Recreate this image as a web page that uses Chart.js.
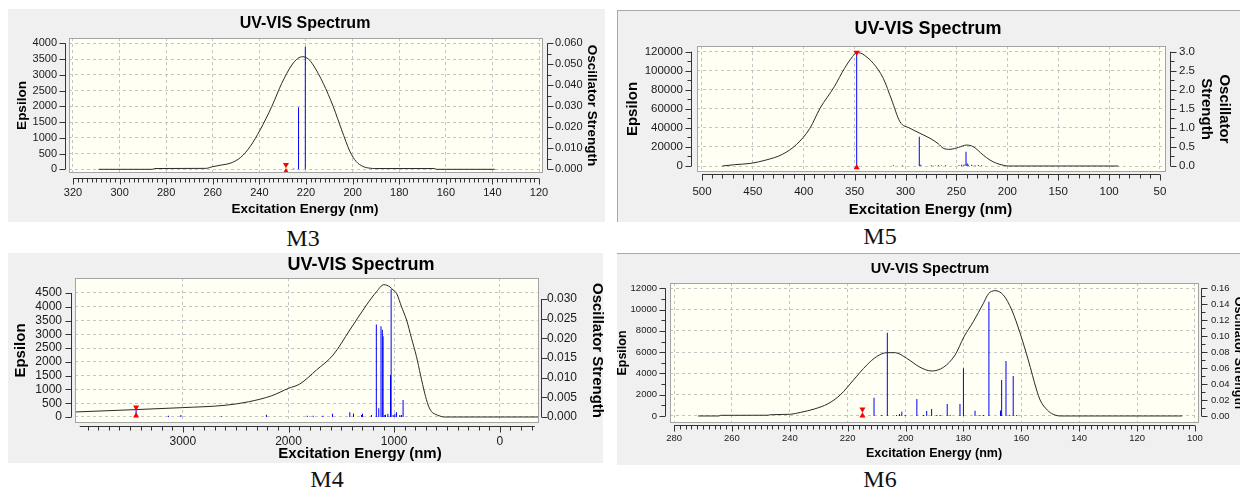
<!DOCTYPE html>
<html lang="en">
<head>
<meta charset="utf-8">
<title>UV-VIS Spectrum M3 M5 M4 M6</title>
<script src="https://cdn.jsdelivr.net/npm/chart.js@4.4.1/dist/chart.umd.min.js"></script>
<style>
  html, body { margin: 0; padding: 0; background: #fff; }
  body { position: relative; width: 1240px; height: 489px; overflow: hidden; }
  .bg { position: absolute; background: #f0f0f0; box-sizing: border-box; }
  canvas { position: absolute; }
  .cap { position: absolute; width: 80px; margin-left: -40px; text-align: center; font: 24px/24px "Liberation Serif", "Times New Roman", serif; color: #111; }
</style>
</head>
<body>
<div class="bg" style="left:8px;top:9px;width:597px;height:213px"></div>
<div class="bg" style="left:617px;top:10px;width:623px;height:212px;border-top:1px solid #a8a8a8;border-left:1px solid #a8a8a8"></div>
<div class="bg" style="left:8px;top:253px;width:595px;height:210px"></div>
<div class="bg" style="left:617px;top:253px;width:623px;height:212px;border-top:1px solid #a8a8a8"></div>

<canvas id="m3" width="597" height="213" style="left:8px;top:9px;width:597px;height:213px"></canvas>
<canvas id="m5" width="623" height="212" style="left:617px;top:10px;width:623px;height:212px"></canvas>
<canvas id="m4" width="602" height="210" style="left:8px;top:253px;width:602px;height:210px"></canvas>
<canvas id="m6" width="640" height="212" style="left:617px;top:253px;width:640px;height:212px"></canvas>

<div class="cap" style="left:303px;top:226px">M3</div>
<div class="cap" style="left:880px;top:224px">M5</div>
<div class="cap" style="left:327px;top:467px">M4</div>
<div class="cap" style="left:880px;top:467px">M6</div>

<script>
// ---- M3 ----
const m3Nm = [309, 286, 285, 263, 260, 256, 252.6, 248, 244, 239.7, 234.7, 230.4, 226.1, 223.5, 221.4, 219, 216.9, 212.6, 208.3, 204.7, 201.1, 198.5, 195.5, 192.5, 190.5, 165, 164, 139]
const m3Eps = [0, 0, 25, 30, 85, 140, 190, 380, 720, 1250, 1990, 2730, 3310, 3520, 3575, 3500, 3310, 2730, 1990, 1250, 560, 250, 90, 35, 25, 25, 0, 0]
const m3StickNm = [225.2, 223.2, 220.3]
const m3StickF = [0.0004, 0.0295, 0.0584]
const m3MarkNm = [228.6, 228.6]
const m3MarkF = [0.0022, -0.001]
const m3NmTicks = [320, 300, 280, 260, 240, 220, 200, 180, 160, 140, 120]
const m3EpsTicks = [0, 500, 1000, 1500, 2000, 2500, 3000, 3500, 4000]
const m3OscTicks = [0, 0.01, 0.02, 0.03, 0.04, 0.05, 0.06]

// ---- M5 ----
const m5Nm = [480, 468, 452, 437, 421, 407, 394, 384, 370, 360, 352, 348, 344, 340, 331.7, 321.9, 313.6, 305.5, 295.6, 285.8, 276, 268, 262.9, 256.3, 248, 240.1, 233.5, 223.7, 217, 210.5, 204, 199, 91]
const m5Eps = [0, 1400, 2800, 6300, 12250, 22740, 39540, 60600, 83280, 102500, 115000, 119000, 118500, 116000, 107800, 92100, 69300, 46500, 39600, 34300, 29100, 23500, 18600, 17500, 19500, 22000, 20300, 11500, 6200, 2800, 800, 0, 0]
const m5StickNm = [348, 312, 303, 286.5, 285, 274.3, 271, 267.7, 264.5, 260.6, 247.5, 244.9, 242.6, 240.6, 239.5, 238.5, 235, 231.8, 228.5, 225.2]
const m5StickF = [2.95, 0.02, 0.015, 0.77, 0.03, 0.02, 0.015, 0.02, 0.015, 0.02, 0.02, 0.03, 0.04, 0.375, 0.07, 0.04, 0.03, 0.02, 0.025, 0.02]
const m5MarkNm = [348, 348]
const m5MarkF = [2.98, -0.04]
const m5NmTicks = [500, 450, 400, 350, 300, 250, 200, 150, 100, 50]
const m5EpsTicks = [0, 20000, 40000, 60000, 80000, 100000, 120000]
const m5OscTicks = [0, 0.5, 1, 1.5, 2, 2.5, 3]

// ---- M4 ----
const m4Nm = [4020, 3442, 3000, 2600, 2380, 2160, 2000, 1893, 1735, 1578, 1420, 1262, 1167, 1098, 1040, 1010, 978, 931, 883, 836, 789, 751, 711, 679, 647, 616, 568, 530, -370]
const m4Eps = [182, 268, 340, 425, 550, 770, 1040, 1198, 1706, 2250, 3157, 4065, 4547, 4801, 4720, 4609, 4489, 4002, 3520, 2855, 2188, 1524, 860, 435, 192, 109, 36, 0, 0]
const m4StickNm = [3442, 3136, 3018, 2632, 2209, 1822, 1767, 1675, 1584, 1420, 1385, 1309, 1300, 1215, 1169, 1146, 1125, 1112, 1105, 1089, 1082, 1060, 1035, 1029, 1010, 994, 978, 947, 931, 916]
const m4StickF = [0.0022, 0.0003, 0.0005, 0.0002, 0.0006, 0.0003, 0.0003, 0.0003, 0.0008, 0.0012, 0.0009, 0.0005, 0.0008, 0.0005, 0.0235, 0.0022, 0.0231, 0.0222, 0.0205, 0.0005, 0.0006, 0.0008, 0.0107, 0.0325, 0.0005, 0.0008, 0.0012, 0.0005, 0.0005, 0.0043]
const m4MarkNm = [3442, 3442]
const m4MarkF = [0.0025, 0.0003]
const m4NmTicks = [3000, 2000, 1000, 0]
const m4EpsTicks = [0, 500, 1000, 1500, 2000, 2500, 3000, 3500, 4000, 4500]
const m4OscTicks = [0, 0.005, 0.01, 0.015, 0.02, 0.025, 0.03]

// ---- M6 ----
const m6Nm = [271.7, 264.5, 264, 247.5, 247, 239.8, 236.4, 231.6, 226.8, 222.6, 218, 213.4, 210, 206.5, 203.6, 199.6, 195, 191, 186.9, 182.9, 179.8, 176.6, 173.1, 171.4, 169.1, 166.2, 163.3, 160.4, 157.6, 154.7, 153.5, 151, 149, 146.3, 104.4]
const m6Eps = [0, 0, 60, 70, 110, 160, 330, 650, 1150, 1970, 3380, 4790, 5580, 5950, 5950, 5420, 4580, 4230, 4580, 5730, 7450, 8860, 10590, 11470, 11780, 11370, 9960, 7770, 5260, 2440, 1500, 550, 160, 0, 0]
const m6StickNm = [210.9, 208.2, 206.3, 203.1, 202.1, 201.3, 200.1, 196.1, 193.8, 192.7, 191, 189.2, 188.1, 185.6, 184.6, 181.2, 180, 176, 174.3, 173.1, 171.2, 167.2, 166.8, 165.3, 164, 162.8, 161.6]
const m6StickF = [0.0229, 0.0013, 0.1044, 0.0013, 0.0025, 0.0054, 0.0013, 0.0213, 0.0013, 0.0063, 0.0088, 0.0013, 0.0013, 0.015, 0.0013, 0.015, 0.0597, 0.0067, 0.0013, 0.0013, 0.1432, 0.007, 0.0451, 0.0689, 0.0013, 0.0501, 0.0013]
const m6MarkNm = [214.9, 214.9]
const m6MarkF = [0.0085, 0.0003]
const m6NmTicks = [280, 260, 240, 220, 200, 180, 160, 140, 120, 100]
const m6EpsTicks = [0, 2000, 4000, 6000, 8000, 10000, 12000]
const m6OscTicks = [0, 0.02, 0.04, 0.06, 0.08, 0.1, 0.12, 0.14, 0.16]

const FONT = '"Liberation Sans", Arial, sans-serif'
Chart.defaults.font.family = FONT
Chart.defaults.color = "#1a1a1a"

const steps = (lo, hi, step) => {
  const out = []
  for (let k = Math.ceil(lo / step - 1e-9); k * step <= hi + 1e-9; k++) out.push(k * step)
  return out
}
const isMultiple = (v, m) => Math.abs(v / m - Math.round(v / m)) < 1e-6

// plot box, offset axes with minor ticks, chart title and x title
const axisFrame = {
  id: "axisFrame",
  beforeDraw(chart) {
    const { ctx, chartArea: a } = chart
    ctx.save()
    ctx.fillStyle = "#fffff4"
    ctx.fillRect(a.left, a.top, a.width, a.height)
    ctx.restore()
  },
  afterDraw(chart, args, o) {
    const { ctx, chartArea: a, scales } = chart
    const px = (v) => Math.round(v) + 0.5
    const line = (x0, y0, x1, y1) => {
      ctx.beginPath()
      ctx.moveTo(x0, y0)
      ctx.lineTo(x1, y1)
      ctx.stroke()
    }
    ctx.save()
    ctx.lineWidth = 1
    ctx.strokeStyle = "#a4a4a4"
    ctx.strokeRect(Math.round(a.left) + 0.5, Math.round(a.top) + 0.5, Math.round(a.width) - 1, Math.round(a.height) - 1)

    ctx.strokeStyle = "#333"
    // x axis under the box
    const xs = scales.x
    const yl = px(a.bottom + o.xGap)
    line(xs.getPixelForValue(o.xLine[0]), yl, xs.getPixelForValue(o.xLine[1]), yl)
    steps(o.xLine[0], o.xLine[1], o.xMinor).forEach((v) => {
      const x = px(xs.getPixelForValue(v))
      line(x, yl, x, yl + (isMultiple(v, o.xMajor) ? 6 : 4))
    })

    // left axis
    const ys = scales.y
    const lastY = ys.ticks[ys.ticks.length - 1].value
    const xl = px(a.left - o.yGap)
    line(xl, ys.getPixelForValue(0), xl, ys.getPixelForValue(lastY))
    steps(0, lastY, o.yMinor).forEach((v) => {
      const y = px(ys.getPixelForValue(v))
      line(xl - (isMultiple(v, o.yMajor) ? 6 : 4), y, xl, y)
    })

    // right axis
    const y2 = scales.y2
    const lastF = y2.ticks[y2.ticks.length - 1].value
    const xr = px(a.right + o.y2Gap)
    line(xr, y2.getPixelForValue(0), xr, y2.getPixelForValue(lastF))
    steps(0, lastF, o.y2Minor).forEach((v) => {
      const y = px(y2.getPixelForValue(v))
      line(xr, y, xr + (isMultiple(v, o.y2Major) ? 6 : 4), y)
    })

    // titles
    ctx.fillStyle = "#000"
    ctx.textAlign = "center"
    ctx.textBaseline = "middle"
    ctx.font = "bold " + o.title.size + "px " + FONT
    ctx.fillText("UV-VIS Spectrum", o.title.x, o.title.y)
    ctx.font = "bold " + o.xTitle.size + "px " + FONT
    ctx.fillText("Excitation Energy (nm)", o.xTitle.x, o.xTitle.y)
    ctx.restore()
  },
}

function drawSpectrum(id, p) {
  const curve = p.nm.map((x, i) => ({ x: x, y: p.eps[i] }))
  const sticks = p.stickNm.map((x, i) => ({ x: x, y: p.stickF[i] }))
  const marks = p.markNm.map((x, i) => ({ x: x, y: p.markF[i] }))
  const gridColor = "#c4c4c4"

  return new Chart(document.getElementById(id), {
    type: "line",
    data: {
      datasets: [
        {
          type: "scatter",
          data: marks,
          yAxisID: "y2",
          pointStyle: "triangle",
          pointRadius: 3.5,
          pointRotation: (ctx) => (ctx.dataIndex === 0 ? 180 : 0),
          backgroundColor: "#ff0000",
          borderColor: "#ff0000",
          borderWidth: 0,
          order: 0,
        },
        {
          type: "line",
          data: curve,
          yAxisID: "y",
          borderColor: "#2b2b2b",
          borderWidth: 1,
          pointRadius: 0,
          cubicInterpolationMode: "monotone",
          order: 1,
        },
        {
          type: "bar",
          data: sticks,
          yAxisID: "y2",
          backgroundColor: "#0000ff",
          borderWidth: 0,
          barThickness: 1,
          inflateAmount: 0,
          grouped: false,
          order: 2,
        },
      ],
    },
    options: {
      responsive: false,
      devicePixelRatio: 1,
      animation: false,
      events: [],
      layout: { padding: { top: p.area.top, left: 0, right: 0, bottom: 0 } },
      plugins: {
        legend: { display: false },
        tooltip: { enabled: false },
        title: { display: false },
        axisFrame: p.frame,
      },
      scales: {
        x: {
          type: "linear",
          reverse: true,
          offset: false,
          min: p.xRange[0],
          max: p.xRange[1],
          afterBuildTicks: (axis) => { axis.ticks = p.nmTicks.map((v) => ({ value: v })) },
          afterFit: (axis) => { axis.height = p.area.bottom },
          grid: { color: gridColor, drawTicks: false, offset: false },
          border: { display: false, dash: [3, 3] },
          ticks: {
            autoSkip: false,
            maxRotation: 0,
            padding: p.pad.x,
            font: { size: p.tickSize },
            callback: (v) => String(v),
          },
        },
        y: {
          type: "linear",
          position: "left",
          min: p.yRange[0],
          max: p.yRange[1],
          afterBuildTicks: (axis) => { axis.ticks = p.epsTicks.map((v) => ({ value: v })) },
          afterFit: (axis) => { axis.width = p.area.left },
          grid: { color: gridColor, drawTicks: false },
          border: { display: false, dash: [3, 3] },
          ticks: { autoSkip: false, padding: p.pad.left, font: { size: p.tickSize }, callback: (v) => String(v) },
          title: {
            display: true,
            text: "Epsilon",
            color: "#000",
            font: { size: p.axisTitleSize, weight: "bold" },
            padding: { top: p.yTitlePad[0], bottom: 0 },
          },
        },
        y2: {
          type: "linear",
          position: "right",
          min: p.yRange[0] * p.ratio,
          max: p.yRange[1] * p.ratio,
          afterBuildTicks: (axis) => { axis.ticks = p.oscTicks.map((v) => ({ value: v })) },
          afterFit: (axis) => { axis.width = p.area.right },
          grid: { display: false, drawTicks: false },
          border: { display: false },
          ticks: { autoSkip: false, padding: p.pad.right, font: { size: p.tickSize }, callback: (v) => v.toFixed(p.oscDigits) },
          title: {
            display: true,
            text: p.oscTitle,
            color: "#000",
            font: { size: p.axisTitleSize, weight: "bold" },
            padding: { top: p.yTitlePad[1], bottom: 0 },
          },
        },
      },
    },
    plugins: [axisFrame],
  })
}

drawSpectrum("m3", {
  nm: m3Nm, eps: m3Eps, stickNm: m3StickNm, stickF: m3StickF, markNm: m3MarkNm, markF: m3MarkF,
  nmTicks: m3NmTicks, epsTicks: m3EpsTicks, oscTicks: m3OscTicks, oscDigits: 3,
  xRange: [118.3, 321.7], yRange: [-117, 4168], ratio: 0.06 / 4000,
  area: { left: 61, top: 29, right: 62, bottom: 49 },
  tickSize: 11, axisTitleSize: 13.5,
  pad: { left: 12, right: 12, x: 13.4 },
  yTitlePad: [5.9, 4.9],
  oscTitle: "Oscillator Strength",
  frame: {
    xLine: [120, 320], xMinor: 2, xMajor: 20, xGap: 5,
    yGap: 4, yMinor: 500, yMajor: 500, y2Gap: 4, y2Minor: 0.005, y2Major: 0.01,
    title: { x: 297, y: 15, size: 16 },
    xTitle: { x: 297, y: 200, size: 13.5 },
  },
})

drawSpectrum("m5", {
  nm: m5Nm, eps: m5Eps, stickNm: m5StickNm, stickF: m5StickF, markNm: m5MarkNm, markF: m5MarkF,
  nmTicks: m5NmTicks, epsTicks: m5EpsTicks, oscTicks: m5OscTicks, oscDigits: 1,
  xRange: [44.1, 504.9], yRange: [-6300, 126000], ratio: 3 / 120000,
  area: { left: 80, top: 36, right: 74, bottom: 50 },
  tickSize: 11.5, axisTitleSize: 15,
  pad: { left: 14, right: 13, x: 13.1 },
  yTitlePad: [7, 7],
  oscTitle: ["Oscillator", "Strength"],
  frame: {
    xLine: [50, 500], xMinor: 10, xMajor: 50, xGap: 2,
    yGap: 6, yMinor: 10000, yMajor: 20000, y2Gap: 4, y2Minor: 0.25, y2Major: 0.5,
    title: { x: 311, y: 19, size: 18 },
    xTitle: { x: 313.5, y: 200, size: 15 },
  },
})

drawSpectrum("m4", {
  nm: m4Nm, eps: m4Eps, stickNm: m4StickNm, stickF: m4StickF, markNm: m4MarkNm, markF: m4MarkF,
  nmTicks: m4NmTicks, epsTicks: m4EpsTicks, oscTicks: m4OscTicks, oscDigits: 3,
  xRange: [-370, 4020], yRange: [-218, 5044], ratio: 0.03 / 4282,
  area: { left: 67, top: 25, right: 71, bottom: 40 },
  tickSize: 12, axisTitleSize: 15,
  pad: { left: 13, right: 8, x: 11.8 },
  yTitlePad: [4, 4],
  oscTitle: "Oscillator Strength",
  frame: {
    xLine: [-330, 3975], xMinor: 100, xMajor: 1000, xGap: 3,
    yGap: 4, yMinor: 500, yMajor: 500, y2Gap: 2, y2Minor: 0.005, y2Major: 0.005,
    title: { x: 353, y: 12, size: 18 },
    xTitle: { x: 352, y: 201, size: 15 },
  },
})

drawSpectrum("m6", {
  nm: m6Nm, eps: m6Eps, stickNm: m6StickNm, stickF: m6StickF, markNm: m6MarkNm, markF: m6MarkF,
  nmTicks: m6NmTicks, epsTicks: m6EpsTicks, oscTicks: m6OscTicks, oscDigits: 2,
  xRange: [98.6, 281.4], yRange: [-660, 12500], ratio: 0.16 / 12000,
  area: { left: 53, top: 30, right: 58, bottom: 42 },
  tickSize: 9.5, axisTitleSize: 12.5,
  pad: { left: 13, right: 12, x: 9.3 },
  yTitlePad: [-1.5, 11.5],
  oscTitle: "Oscillator Strength",
  frame: {
    xLine: [100, 280], xMinor: 2, xMajor: 20, xGap: 2,
    yGap: 5, yMinor: 1000, yMajor: 2000, y2Gap: 2, y2Minor: 0.01, y2Major: 0.02,
    title: { x: 313, y: 16, size: 14.5 },
    xTitle: { x: 317, y: 201, size: 12.5 },
  },
})
</script>
</body>
</html>
